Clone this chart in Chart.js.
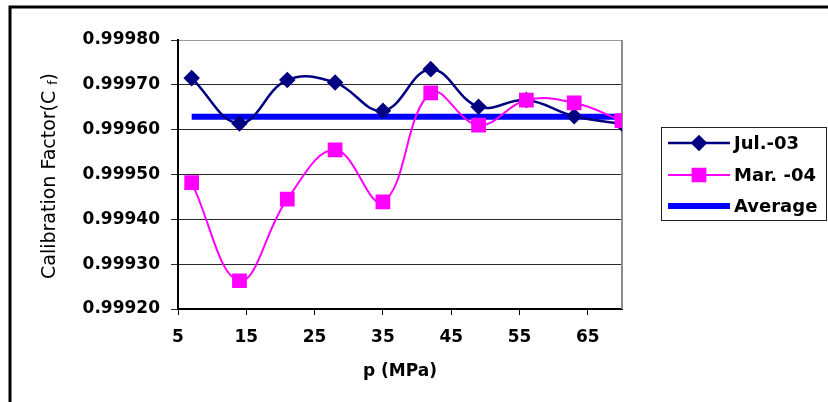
<!DOCTYPE html>
<html>
<head>
<meta charset="utf-8">
<title>Calibration Factor</title>
<script src="https://cdn.jsdelivr.net/npm/chart.js@4"></script>
<style>
  body { margin: 0; background: #fff; }
  canvas { display: block; }
</style>
</head>
<body>
<canvas id="chart" width="828" height="402"></canvas>
<script>
// valeurs
const pressure = [7, 14, 21, 28, 35, 42, 49, 56, 63, 70];
const jul03 = [0.999715, 0.999614, 0.999711, 0.999705, 0.999642, 0.999735, 0.999651, 0.999666, 0.999630, 0.999613];
const mar04 = [0.999482, 0.999263, 0.999445, 0.999555, 0.999439, 0.999682, 0.999610, 0.999666, 0.999660, 0.999620];
const averageValue = 0.999629;
const averageRange = [7, 70];
const xTicks = [5, 15, 25, 35, 45, 55, 65];
const yTicks = [0.9992, 0.9993, 0.9994, 0.9995, 0.9996, 0.9997, 0.9998];
const seriesNames = ['Jul.-03', 'Mar. -04', 'Average'];

Chart.defaults.font.family = "'DejaVu Sans', sans-serif";
Chart.defaults.color = '#000';

const toPoints = (xs, ys) => xs.map((x, i) => ({ x: x, y: ys[i] }));

// cadre, bordure droite, légende et titre vertical
const decor = {
    id: 'decor',
    beforeDraw(chart) {
        const ctx = chart.ctx;
        ctx.save();
        ctx.fillStyle = '#fff';
        ctx.fillRect(0, 0, chart.width, chart.height);
        ctx.strokeStyle = '#000';
        ctx.lineWidth = 3;
        ctx.beginPath();
        ctx.moveTo(10, chart.height);
        ctx.lineTo(10, 7);
        ctx.lineTo(chart.width, 7);
        ctx.stroke();
        ctx.restore();
    },
    beforeDatasetsDraw(chart) {
        const ctx = chart.ctx;
        const a = chart.chartArea;
        ctx.save();
        ctx.strokeStyle = '#8c8c8c';
        ctx.lineWidth = 2;
        ctx.beginPath();
        ctx.moveTo(a.right, a.top);
        ctx.lineTo(a.right, a.bottom);
        ctx.stroke();
        ctx.restore();
    },
    afterDraw(chart) {
        const ctx = chart.ctx;
        ctx.save();

        // légende
        ctx.strokeStyle = '#222';
        ctx.lineWidth = 1;
        ctx.strokeRect(661.5, 127.5, 165, 93);
        const rowsY = [143, 175, 206];
        chart.data.datasets.forEach((ds, i) => {
            const y = rowsY[i];
            ctx.strokeStyle = ds.borderColor;
            ctx.lineWidth = ds.borderWidth;
            ctx.beginPath();
            ctx.moveTo(668, y);
            ctx.lineTo(730, y);
            ctx.stroke();
            if (ds.pointRadius > 0) {
                ctx.fillStyle = ds.pointBackgroundColor;
                ctx.strokeStyle = ds.pointBorderColor;
                Chart.helpers.drawPoint(ctx, {
                    pointStyle: ds.pointStyle,
                    radius: ds.pointRadius,
                    rotation: 0,
                    borderWidth: 1
                }, 699, y);
            }
            ctx.fillStyle = '#000';
            ctx.font = "bold 18px 'DejaVu Sans'";
            ctx.textBaseline = 'middle';
            ctx.textAlign = 'left';
            ctx.fillText(ds.label, 734, y + 1);
        });

        // titre de l'axe Y avec l'indice f
        ctx.translate(50, 176);
        ctx.rotate(-Math.PI / 2);
        ctx.textBaseline = 'middle';
        ctx.textAlign = 'left';
        const big = "19px 'DejaVu Sans'";
        const small = "12px 'DejaVu Sans'";
        const p1 = 'Calibration Factor(C ';
        const p2 = 'f';
        const p3 = ')';
        ctx.font = big;
        const w1 = ctx.measureText(p1).width;
        const w3 = ctx.measureText(p3).width;
        ctx.font = small;
        const w2 = ctx.measureText(p2).width;
        let x = -(w1 + w2 + w3) / 2;
        ctx.fillStyle = '#000';
        ctx.font = big;
        ctx.fillText(p1, x, 0);
        x += w1;
        ctx.font = small;
        ctx.fillText(p2, x, 4);
        x += w2;
        ctx.font = big;
        ctx.fillText(p3, x, 0);
        ctx.restore();
    }
};

new Chart(document.getElementById('chart'), {
    type: 'line',
    data: {
        datasets: [{
            label: seriesNames[0],
            data: toPoints(pressure, jul03),
            borderColor: '#000080',
            backgroundColor: '#000080',
            pointBackgroundColor: '#000080',
            pointBorderColor: '#000080',
            pointStyle: 'rectRot',
            pointRadius: 6.5,
            borderWidth: 2.5,
            tension: 0.4,
            order: 1
        }, {
            label: seriesNames[1],
            data: toPoints(pressure, mar04),
            borderColor: '#ff00ff',
            backgroundColor: '#ff00ff',
            pointBackgroundColor: '#ff00ff',
            pointBorderColor: '#ff00ff',
            pointStyle: 'rect',
            pointRadius: 9,
            borderWidth: 2,
            tension: 0.4,
            order: 0
        }, {
            label: seriesNames[2],
            data: averageRange.map(x => ({ x: x, y: averageValue })),
            borderColor: '#0000ff',
            backgroundColor: '#0000ff',
            pointRadius: 0,
            borderWidth: 6,
            order: 2
        }]
    },
    options: {
        responsive: false,
        animation: false,
        devicePixelRatio: 1,
        layout: { padding: { left: 39, top: 40, right: 206, bottom: 0 } },
        plugins: {
            legend: { display: false },
            tooltip: { enabled: false }
        },
        scales: {
            x: {
                type: 'linear',
                min: 5,
                max: 70,
                afterBuildTicks: axis => { axis.ticks = xTicks.map(v => ({ value: v })); },
                afterFit: axis => { axis.height = 93; },
                grid: { drawOnChartArea: false, drawTicks: true, tickLength: 6, tickColor: '#000' },
                border: { color: '#000', width: 2 },
                ticks: {
                    padding: 12,
                    maxRotation: 0,
                    font: { size: 17, weight: 'bold' },
                    color: '#000'
                },
                title: {
                    display: true,
                    text: 'p (MPa)',
                    font: { size: 17, weight: 'bold', lineHeight: 1.2 },
                    color: '#000',
                    padding: { top: 0, bottom: 20 }
                }
            },
            y: {
                min: 0.9992,
                max: 0.9998,
                afterBuildTicks: axis => { axis.ticks = yTicks.map(v => ({ value: v })); },
                afterFit: axis => { axis.width = 139; },
                grid: {
                    color: c => c.index === yTicks.length - 1 ? '#9a9a9a' : '#2a2a2a',
                    tickColor: '#2a2a2a',
                    lineWidth: 1,
                    tickLength: 7
                },
                border: { color: '#000', width: 2 },
                ticks: {
                    padding: 11,
                    font: { size: 17, weight: 'bold' },
                    color: '#000',
                    callback: v => v.toFixed(5)
                }
            }
        }
    },
    plugins: [decor]
});
</script>
</body>
</html>
